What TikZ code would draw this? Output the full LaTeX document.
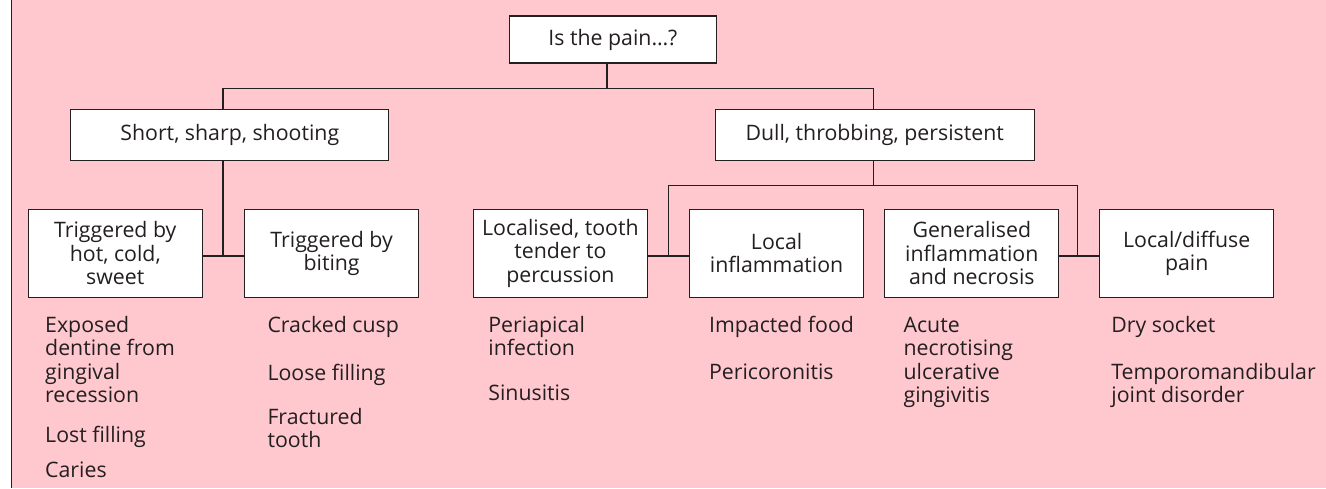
\documentclass[tikz,border=0pt]{standalone}
\usepackage{fontspec}
\setmainfont{Open Sans}
\definecolor{bgpink}{RGB}{255,199,206}
\definecolor{ink}{RGB}{35,31,32}
\begin{document}
\begin{tikzpicture}[x=1pt,y=-1pt,
  box/.style={draw=ink,line width=1.3pt,fill=white,align=center,inner sep=2pt,
    font=\fontsize{21.3pt}{23.3pt}\selectfont,text=ink},
  lowbox/.style={box,minimum width=174pt,minimum height=88pt},
  conn/.style={draw=ink,line width=1.3pt},
  item/.style={anchor=base west,inner sep=0pt,align=left,
    font=\fontsize{21.3pt}{23.3pt}\selectfont,text=ink}]
\useasboundingbox (0,0) rectangle (1326,488);
\fill[bgpink] (11.5,0) rectangle (1326,488);
\draw[ink,line width=1.5pt] (11.5,0) -- (11.5,488);

\node[box,minimum width=207pt,minimum height=47pt] (top) at (612.9,39.5) {Is the pain…?};
\node[box,minimum width=318pt,minimum height=51pt] (short) at (229.8,134.8) {Short, sharp, shooting};
\node[box,minimum width=319pt,minimum height=51pt] (dull) at (874.7,134.8) {Dull, throbbing, persistent};

\node[lowbox] (l1) at (115.3,253.3) {Triggered by\\hot, cold,\\sweet};
\node[lowbox] (l2) at (331.6,253.3) {Triggered by\\biting};
\node[lowbox] (l3) at (560.4,253.3) {Localised, tooth\\tender to\\percussion};
\node[lowbox] (l4) at (776.6,253.3) {Local\\inflammation};
\node[lowbox] (l5) at (971.8,253.3) {Generalised\\inflammation\\and necrosis};
\node[lowbox] (l6) at (1186.7,253.3) {Local/diffuse\\pain};

\coordinate (jA) at (607,88.3);
\coordinate (hL) at (223,88.3);
\coordinate (hR) at (873.7,88.3);
\draw[conn] (jA |- top.south) -- (jA);
\draw[conn] (hL |- short.north) -- (hL) -- (hR) -- (hR |- dull.north);

\coordinate (jS) at (223,256);
\draw[conn] (jS |- short.south) -- (jS);
\draw[conn] (l1.east |- jS) -- (l2.west |- jS);

\coordinate (hD) at (873.7,185.7);
\coordinate (c1) at (668.5,185.7);
\coordinate (c2) at (1077.6,185.7);
\coordinate (c1b) at (668.5,256);
\coordinate (c2b) at (1077.6,256);
\draw[conn] (hD |- dull.south) -- (hD);
\draw[conn] (c1b) -- (c1) -- (c2) -- (c2b);
\draw[conn] (l3.east |- c1b) -- (l4.west |- c1b);
\draw[conn] (l5.east |- c2b) -- (l6.west |- c2b);

% base anchor = baseline of the last line
\node[item] (a1) at (45,402.4) {Exposed\\dentine from\\gingival\\recession};
\node[item] (a2) at (45,442.5) {Lost filling};
\node[item] (a3) at (45,477) {Caries};
\node[item] (b1) at (267.3,332.5) {Cracked cusp};
\node[item] (b2) at (267.3,380) {Loose filling};
\node[item] (b3) at (267.3,447.3) {Fractured\\tooth};
\node[item] (c1t) at (488.2,355.8) {Periapical\\infection};
\node[item] (c2t) at (488.2,400) {Sinusitis};
\node[item] (d1) at (708.9,332.5) {Impacted food};
\node[item] (d2) at (708.9,379) {Pericoronitis};
\node[item] (e1) at (903.4,402.4) {Acute\\necrotising\\ulcerative\\gingivitis};
\node[item] (f1) at (1111.2,332.5) {Dry socket};
\node[item] (f2) at (1111.2,402.3) {Temporomandibular\\joint disorder};
\end{tikzpicture}
\end{document}
